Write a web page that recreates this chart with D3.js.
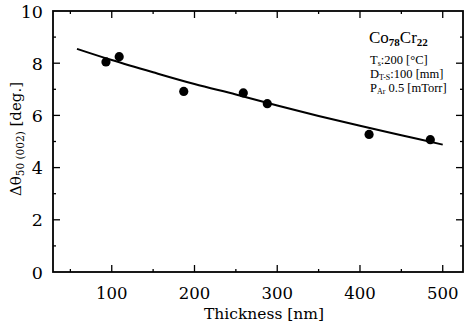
<!DOCTYPE html>
<html>
<head>
<meta charset="utf-8">
<script src="https://cdn.jsdelivr.net/npm/d3@7"></script>
<style>
  body { margin: 0; background: #fff; }
  svg { font-family: "DejaVu Serif", serif; }
  .ann { font-family: "Liberation Serif", "Times New Roman", serif; }
</style>
</head>
<body>
<svg width="466" height="327"></svg>
<script>
// measured points
let thickness = [93, 109, 187, 259, 288, 411, 485];
let deltaTheta = [8.05, 8.25, 6.92, 6.86, 6.45, 5.27, 5.07];

// fitted curve
let curveX = [58, 100, 150, 200, 250, 300, 350, 400, 450, 500];
let curveY = [8.55, 8.12, 7.65, 7.2, 6.8, 6.38, 5.98, 5.6, 5.24, 4.88];

let xTicks = [100, 200, 300, 400, 500];
let yTicks = [0, 2, 4, 6, 8, 10];

let svg = d3.select('svg');
let pLeft = 53, pRight = 463, pTop = 11, pBottom = 272;

let x = d3.scaleLinear().domain([29, 524.5]).range([pLeft, pRight]);
let y = d3.scaleLinear().domain([0, 10]).range([pBottom, pTop]);

// frame
svg.append('rect')
  .attr('x', pLeft).attr('y', pTop)
  .attr('width', pRight - pLeft).attr('height', pBottom - pTop)
  .attr('fill', 'none').attr('stroke', '#000').attr('stroke-width', 1.8);

// ticks, pointing inward
let g = svg.append('g').attr('stroke', '#000').attr('stroke-width', 1.3);
d3.range(50, 525, 50).forEach(function (v) {
  let len = v % 100 == 0 ? 7 : 3;
  g.append('line').attr('x1', x(v)).attr('x2', x(v)).attr('y1', pBottom).attr('y2', pBottom - len);
  g.append('line').attr('x1', x(v)).attr('x2', x(v)).attr('y1', pTop).attr('y2', pTop + len);
});
d3.range(1, 10).forEach(function (v) {
  let len = v % 2 == 0 ? 7 : 3;
  g.append('line').attr('x1', pLeft).attr('x2', pLeft + len).attr('y1', y(v)).attr('y2', y(v));
  g.append('line').attr('x1', pRight).attr('x2', pRight - len).attr('y1', y(v)).attr('y2', y(v));
});

// tick labels
svg.append('g').selectAll('text').data(yTicks).enter().append('text')
  .attr('x', 43).attr('y', function (d) { return y(d) + 6.5; })
  .attr('text-anchor', 'end').attr('font-size', 17.5)
  .text(function (d) { return d; });

svg.append('g').selectAll('text').data(xTicks).enter().append('text')
  .attr('x', function (d) { return x(d); }).attr('y', 299)
  .attr('text-anchor', 'middle').attr('font-size', 16.5)
  .text(function (d) { return d; });

// axis titles
svg.append('text')
  .attr('x', 264).attr('y', 319)
  .attr('text-anchor', 'middle').attr('font-size', 15.5)
  .text('Thickness [nm]');

let yl = svg.append('text')
  .attr('transform', 'translate(21,139) rotate(-90)')
  .attr('text-anchor', 'middle').attr('font-size', 15);
yl.append('tspan').text('Δθ');
yl.append('tspan').attr('font-size', 10.5).attr('dy', 3).text('50 (002)');
yl.append('tspan').attr('dy', -3).text(' [deg.]');

// fitted line
let line = d3.line()
  .x(function (d) { return x(d[0]); })
  .y(function (d) { return y(d[1]); })
  .curve(d3.curveCatmullRom);
svg.append('path')
  .datum(d3.zip(curveX, curveY))
  .attr('d', line)
  .attr('fill', 'none').attr('stroke', '#000').attr('stroke-width', 2);

// data points
svg.append('g').selectAll('circle').data(d3.zip(thickness, deltaTheta)).enter().append('circle')
  .attr('cx', function (d) { return x(d[0]); })
  .attr('cy', function (d) { return y(d[1]); })
  .attr('r', 4.6).attr('fill', '#000');

// annotation
let t1 = svg.append('text').attr('class', 'ann').attr('x', 369).attr('y', 43).attr('font-size', 17);
t1.append('tspan').text('Co');
t1.append('tspan').attr('font-size', 11).attr('dy', 3).attr('font-weight', 'bold').text('78');
t1.append('tspan').attr('dy', -3).text('Cr');
t1.append('tspan').attr('font-size', 11).attr('dy', 3).attr('font-weight', 'bold').text('22');

let t2 = svg.append('text').attr('class', 'ann').attr('x', 370).attr('y', 64).attr('font-size', 12.5);
t2.append('tspan').text('T');
t2.append('tspan').attr('font-size', 8).attr('dy', 2).text('s');
t2.append('tspan').attr('dy', -2).text(':200 [°C]');

let t3 = svg.append('text').attr('class', 'ann').attr('x', 370).attr('y', 78).attr('font-size', 12.5);
t3.append('tspan').text('D');
t3.append('tspan').attr('font-size', 8).attr('dy', 2).text('T-S');
t3.append('tspan').attr('dy', -2).text(':100 [mm]');

let t4 = svg.append('text').attr('class', 'ann').attr('x', 370).attr('y', 92).attr('font-size', 12.5);
t4.append('tspan').text('P');
t4.append('tspan').attr('font-size', 8).attr('dy', 2).text('Ar');
t4.append('tspan').attr('dy', -2).text(' 0.5 [mTorr]');
</script>
</body>
</html>
